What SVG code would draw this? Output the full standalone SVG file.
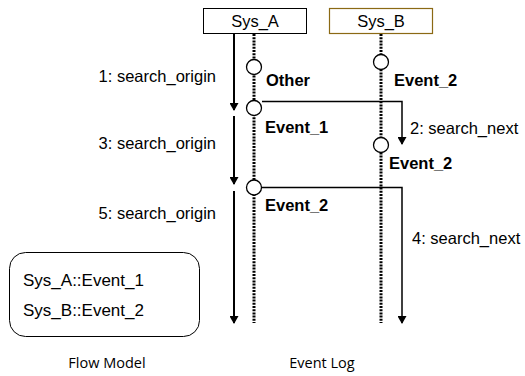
<svg xmlns="http://www.w3.org/2000/svg" width="525" height="376" viewBox="0 0 525 376">
<defs>
<marker id="ah" markerWidth="8" markerHeight="9" refX="7" refY="4.5" orient="auto" markerUnits="userSpaceOnUse">
<path d="M0,0 L8,4.5 L0,9 Z" fill="#000"/>
</marker>
<style>
.t{font-family:"Liberation Sans",Arial,sans-serif;font-size:16.5px;fill:#000}
.b{font-family:"Liberation Sans",Arial,sans-serif;font-size:16.5px;font-weight:bold;fill:#000}
.c{font-family:"Open Sans","Noto Sans",sans-serif;font-size:14.5px;fill:#000}
.life{stroke:#000;stroke-width:3;stroke-dasharray:2 1.2;fill:none}
.flow{stroke:#000;stroke-width:2;fill:none;marker-end:url(#ah)}
.msg{stroke:#000;stroke-width:1.5;fill:none;marker-end:url(#ah)}
.ev{fill:#fff;stroke:#000;stroke-width:1.3}
</style>
</defs>
<rect width="525" height="376" fill="#fff"/>
<g id="sys_a">
<rect x="203.5" y="8.5" width="103" height="25" fill="#fff" stroke="#000" stroke-width="1"/>
<text class="t" x="255" y="27" text-anchor="middle">Sys_A</text>
</g>
<g id="sys_b">
<rect x="329.5" y="8.5" width="103" height="25" fill="#fff" stroke="#8B6914" stroke-width="1.2"/>
<text class="t" x="381" y="27" text-anchor="middle">Sys_B</text>
</g>
<g id="connectors">
<line class="life" x1="254" y1="34" x2="254" y2="323"/>
<line class="life" x1="381" y1="34" x2="381" y2="323"/>
<line class="flow" x1="234" y1="34" x2="234" y2="110"/>
<line class="flow" x1="234" y1="116" x2="234" y2="184"/>
<line class="flow" x1="234" y1="191" x2="234" y2="323"/>
<path class="msg" d="M262,101.5 H402 V144"/>
<path class="msg" d="M262,187.5 H402 V323"/>
</g>
<g id="ev_other">
<circle class="ev" cx="254" cy="67" r="7.5"/>
<text class="b" x="266" y="86">Other</text>
</g>
<g id="ev_b_event2_top">
<circle class="ev" cx="381" cy="62" r="7.5"/>
<text class="b" x="394" y="86">Event_2</text>
</g>
<g id="ev_a_event1">
<circle class="ev" cx="254" cy="108" r="7.5"/>
<text class="b" x="265" y="133">Event_1</text>
</g>
<g id="ev_b_event2">
<circle class="ev" cx="381" cy="145" r="7.5"/>
<text class="b" x="389" y="169">Event_2</text>
</g>
<g id="ev_a_event2">
<circle class="ev" cx="254" cy="187.5" r="7.5"/>
<text class="b" x="265" y="211">Event_2</text>
</g>
<g id="labels">
<text class="t" x="216" y="82" text-anchor="end">1: search_origin</text>
<text class="t" x="216" y="149" text-anchor="end">3: search_origin</text>
<text class="t" x="216" y="219" text-anchor="end">5: search_origin</text>
<text class="t" x="410" y="134">2: search_next</text>
<text class="t" x="412" y="244">4: search_next</text>
</g>
<g id="flow_model">
<rect x="9.5" y="252.5" width="190" height="84" rx="16" ry="16" fill="#fff" stroke="#000" stroke-width="1"/>
<text class="t" x="23" y="286" style="font-size:17px">Sys_A::Event_1</text>
<text class="t" x="23" y="316" style="font-size:17px">Sys_B::Event_2</text>
</g>
<text class="c" x="107" y="368" text-anchor="middle">Flow Model</text>
<text class="c" x="322" y="368" text-anchor="middle">Event Log</text>
</svg>
